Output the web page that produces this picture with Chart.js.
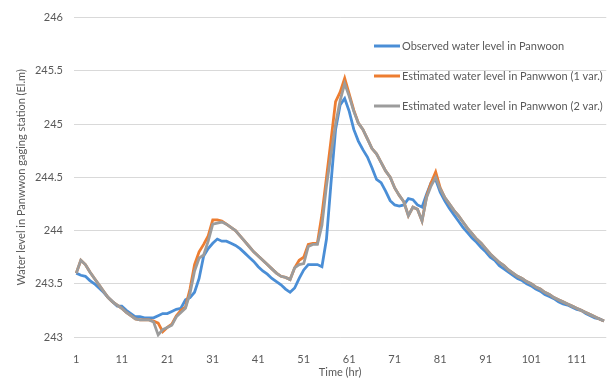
<!DOCTYPE html>
<html>
<head>
<meta charset="utf-8">
<script src="https://cdn.jsdelivr.net/npm/chart.js@4"></script>
<style>
  html, body { margin: 0; padding: 0; background: #fff; }
</style>
</head>
<body>
<canvas id="levelChart" width="612" height="380"></canvas>
<script>
// hours 1..117
const hours = [
  1, 2, 3, 4, 5, 6, 7, 8, 9, 10, 11, 12, 13, 14, 15, 16, 17, 18, 19, 20,
  21, 22, 23, 24, 25, 26, 27, 28, 29, 30, 31, 32, 33, 34, 35, 36, 37, 38, 39, 40,
  41, 42, 43, 44, 45, 46, 47, 48, 49, 50, 51, 52, 53, 54, 55, 56, 57, 58, 59, 60,
  61, 62, 63, 64, 65, 66, 67, 68, 69, 70, 71, 72, 73, 74, 75, 76, 77, 78, 79, 80,
  81, 82, 83, 84, 85, 86, 87, 88, 89, 90, 91, 92, 93, 94, 95, 96, 97, 98, 99, 100,
  101, 102, 103, 104, 105, 106, 107, 108, 109, 110, 111, 112, 113, 114, 115, 116, 117
];

const observed = [
  243.60, 243.58, 243.57, 243.53, 243.50, 243.46, 243.42, 243.37, 243.33, 243.29,
  243.29, 243.25, 243.22, 243.19, 243.19, 243.18, 243.18, 243.18, 243.20, 243.22,
  243.22, 243.24, 243.26, 243.27, 243.35, 243.37, 243.42, 243.55, 243.76, 243.83,
  243.88, 243.92, 243.90, 243.90, 243.88, 243.86, 243.83, 243.79, 243.75, 243.71,
  243.66, 243.62, 243.59, 243.55, 243.52, 243.49, 243.45, 243.42, 243.46, 243.55,
  243.63, 243.68, 243.68, 243.68, 243.66, 243.92, 244.45, 244.95, 245.18, 245.24,
  245.12, 244.95, 244.84, 244.76, 244.69, 244.59, 244.48, 244.45, 244.37, 244.28,
  244.24, 244.23, 244.24, 244.30, 244.29, 244.24, 244.22, 244.34, 244.45, 244.48,
  244.36, 244.28, 244.21, 244.15, 244.09, 244.03, 243.98, 243.93, 243.89, 243.84,
  243.80, 243.75, 243.72, 243.67, 243.64, 243.61, 243.58, 243.55, 243.53, 243.50,
  243.48, 243.45, 243.43, 243.40, 243.38, 243.36, 243.33, 243.31, 243.30, 243.28,
  243.26, 243.25, 243.22, 243.20, 243.18, 243.17, 243.15
];

const estimated1 = [
  243.60, 243.72, 243.68, 243.61, 243.55, 243.49, 243.43, 243.37, 243.33, 243.30,
  243.27, 243.23, 243.20, 243.17, 243.16, 243.16, 243.16, 243.15, 243.13, 243.05,
  243.09, 243.12, 243.20, 243.25, 243.28, 243.45, 243.68, 243.80, 243.87, 243.95,
  244.10, 244.10, 244.09, 244.06, 244.03, 244.00, 243.95, 243.90, 243.85, 243.80,
  243.76, 243.72, 243.68, 243.64, 243.60, 243.57, 243.56, 243.54, 243.65, 243.72,
  243.75, 243.87, 243.88, 243.88, 244.15, 244.50, 244.85, 245.21, 245.30, 245.43,
  245.28, 245.13, 245.01, 244.95, 244.86, 244.77, 244.72, 244.64, 244.56, 244.50,
  244.40, 244.33, 244.27, 244.14, 244.22, 244.20, 244.09, 244.32, 244.45, 244.55,
  244.40, 244.31, 244.25, 244.19, 244.14, 244.08, 244.02, 243.97, 243.92, 243.88,
  243.83, 243.78, 243.74, 243.70, 243.67, 243.63, 243.60, 243.57, 243.55, 243.52,
  243.50, 243.47, 243.45, 243.42, 243.40, 243.37, 243.35, 243.33, 243.31, 243.29,
  243.27, 243.25, 243.23, 243.21, 243.19, 243.17, 243.15
];

const estimated2 = [
  243.60, 243.72, 243.68, 243.61, 243.55, 243.49, 243.43, 243.37, 243.33, 243.30,
  243.27, 243.23, 243.20, 243.17, 243.16, 243.16, 243.16, 243.14, 243.02, 243.07,
  243.09, 243.11, 243.19, 243.23, 243.27, 243.41, 243.62, 243.74, 243.77, 243.90,
  244.06, 244.07, 244.08, 244.06, 244.03, 244.00, 243.95, 243.90, 243.85, 243.80,
  243.76, 243.72, 243.68, 243.64, 243.60, 243.57, 243.56, 243.54, 243.65, 243.68,
  243.69, 243.85, 243.87, 243.87, 244.05, 244.42, 244.72, 245.00, 245.22, 245.38,
  245.26, 245.12, 245.01, 244.95, 244.86, 244.77, 244.72, 244.64, 244.56, 244.50,
  244.40, 244.33, 244.27, 244.14, 244.22, 244.20, 244.09, 244.31, 244.42, 244.50,
  244.39, 244.31, 244.25, 244.19, 244.14, 244.08, 244.02, 243.97, 243.92, 243.88,
  243.83, 243.78, 243.74, 243.70, 243.67, 243.63, 243.60, 243.57, 243.55, 243.52,
  243.50, 243.47, 243.45, 243.42, 243.40, 243.37, 243.35, 243.33, 243.31, 243.29,
  243.27, 243.25, 243.23, 243.21, 243.19, 243.17, 243.15
];

const seriesNames = [
  'Observed water level in Panwoon',
  'Estimated water level in Panwwon (1 var.)',
  'Estimated water level in Panwwon (2 var.)'
];
const seriesColors = ['#4A8ED6', '#ED7D31', '#9C9C9C'];

const textColor = '#595959';
const fontFamily = 'Lato, "Liberation Sans", sans-serif';

// legend drawn inside the plot, top right, one item per row
const sideLegend = {
  id: 'sideLegend',
  afterDraw(chart) {
    const ctx = chart.ctx;
    ctx.save();
    ctx.font = '11px ' + fontFamily;
    ctx.textBaseline = 'middle';
    ctx.textAlign = 'left';
    chart.data.datasets.forEach((ds, i) => {
      const y = 46 + i * 30;
      ctx.strokeStyle = ds.borderColor;
      ctx.lineWidth = 3;
      ctx.beginPath();
      ctx.moveTo(374, y);
      ctx.lineTo(400, y);
      ctx.stroke();
      ctx.fillStyle = textColor;
      ctx.fillText(ds.label, 402, y);
    });
    ctx.restore();
  }
};

function makeLine(label, data, color, order) {
  return {
    label: label,
    data: data,
    borderColor: color,
    backgroundColor: color,
    borderWidth: 2.8,
    pointRadius: 0,
    tension: 0,
    fill: false,
    order: order
  };
}

new Chart(document.getElementById('levelChart'), {
  type: 'line',
  data: {
    labels: hours,
    datasets: [
      makeLine(seriesNames[0], observed, seriesColors[0], 2),
      makeLine(seriesNames[1], estimated1, seriesColors[1], 1),
      makeLine(seriesNames[2], estimated2, seriesColors[2], 0)
    ]
  },
  options: {
    responsive: false,
    animation: false,
    layout: { padding: { top: 16, right: 2, left: 0, bottom: 0 } },
    plugins: {
      legend: { display: false },
      tooltip: { enabled: false }
    },
    scales: {
      x: {
        type: 'category',
        offset: true,
        grid: { display: false },
        border: { display: false },
        ticks: {
          autoSkip: false,
          maxRotation: 0,
          padding: 8,
          color: textColor,
          font: { family: fontFamily, size: 11 },
          callback: function (value, index) {
            return index % 10 === 0 ? this.getLabelForValue(value) : '';
          }
        },
        title: {
          display: true,
          text: 'Time (hr)',
          color: textColor,
          font: { family: fontFamily, size: 11 },
          padding: { top: 0, bottom: 1 }
        },
        afterFit: (scale) => { scale.height = 43; }
      },
      y: {
        min: 243,
        max: 246,
        grid: { color: '#D9D9D9', lineWidth: 1, drawTicks: false },
        border: { display: false },
        ticks: {
          stepSize: 0.5,
          padding: 11,
          color: textColor,
          font: { family: fontFamily, size: 11 },
          callback: (value) => String(Number(value.toFixed(1)))
        },
        title: {
          display: true,
          text: 'Water level in Panwwon gaging station (El.m)',
          color: textColor,
          font: { family: fontFamily, size: 11 },
          padding: { top: 15, bottom: 0 }
        },
        afterFit: (scale) => { scale.width = 74; }
      }
    }
  },
  plugins: [sideLegend]
});
</script>
</body>
</html>
